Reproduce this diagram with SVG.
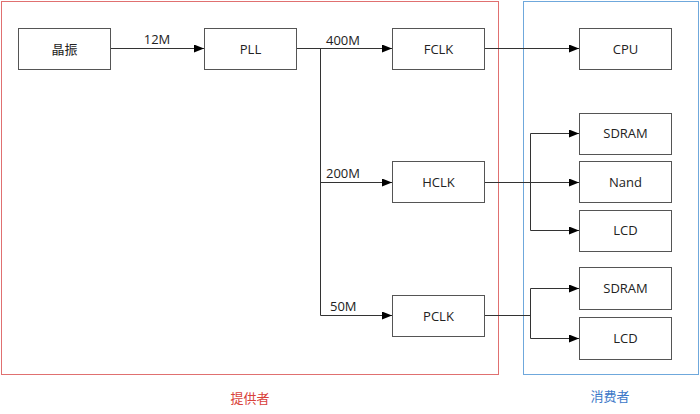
<svg xmlns="http://www.w3.org/2000/svg" width="700" height="414" viewBox="0 0 700 414">
<defs>
<marker id="arr" markerWidth="10" markerHeight="8" refX="10" refY="4" orient="auto" markerUnits="userSpaceOnUse"><path d="M0,0 L10,4 L0,8 z" fill="#000"/></marker>
<style>
.box{fill:#fff;stroke:#555;stroke-width:1}
.t{font-family:"Open Sans","Noto Sans CJK SC",sans-serif;font-size:13px;fill:#222;text-anchor:middle;dominant-baseline:central}
.lbl{font-family:"Open Sans",sans-serif;font-size:13px;fill:#222}
.c{fill:none;stroke:#333;stroke-width:1}
</style>
</defs>
<rect width="700" height="414" fill="#fff"/>
<g id="provider">
<rect x="1.5" y="1.5" width="497" height="373" fill="none" stroke="#e07070" stroke-width="1"/>
<text x="250" y="398" class="t" style="fill:#d9413a">提供者</text>
</g>
<g id="consumer">
<rect x="523.5" y="1.5" width="175" height="373" fill="none" stroke="#6fa8dc" stroke-width="1"/>
<text x="610" y="396" class="t" style="fill:#3c78c8">消费者</text>
</g>
<g id="connectors">
<path class="c" d="M110,48.5 H204" marker-end="url(#arr)"/>
<path class="c" d="M296,48.5 H392" marker-end="url(#arr)"/>
<path class="c" d="M320.5,48.5 V315.5"/>
<path class="c" d="M320.5,182.5 H392" marker-end="url(#arr)"/>
<path class="c" d="M320.5,315.5 H392" marker-end="url(#arr)"/>
<path class="c" d="M484,48.5 H579" marker-end="url(#arr)"/>
<path class="c" d="M484,182.5 H579" marker-end="url(#arr)"/>
<path class="c" d="M530.5,133.5 V230.5"/>
<path class="c" d="M530.5,133.5 H579" marker-end="url(#arr)"/>
<path class="c" d="M530.5,230.5 H579" marker-end="url(#arr)"/>
<path class="c" d="M484,315.5 H530.5"/>
<path class="c" d="M530.5,288.5 V338.5"/>
<path class="c" d="M530.5,288.5 H579" marker-end="url(#arr)"/>
<path class="c" d="M530.5,338.5 H579" marker-end="url(#arr)"/>
<text x="157" y="44" class="lbl" text-anchor="middle">12M</text>
<text x="326" y="45" class="lbl">400M</text>
<text x="326" y="178" class="lbl">200M</text>
<text x="330" y="311" class="lbl">50M</text>
</g>
<g id="n-osc"><rect class="box" x="18.5" y="28.5" width="92" height="41"/><text class="t" x="64.5" y="49">晶振</text></g>
<g id="n-pll"><rect class="box" x="204.5" y="28.5" width="92" height="41"/><text class="t" x="250.5" y="49">PLL</text></g>
<g id="n-fclk"><rect class="box" x="392.5" y="28.5" width="92" height="41"/><text class="t" x="438.5" y="49">FCLK</text></g>
<g id="n-hclk"><rect class="box" x="392.5" y="161.5" width="92" height="41"/><text class="t" x="438.5" y="182">HCLK</text></g>
<g id="n-pclk"><rect class="box" x="392.5" y="295.5" width="92" height="41"/><text class="t" x="438.5" y="316">PCLK</text></g>
<g id="n-cpu"><rect class="box" x="579.5" y="28.5" width="92" height="41"/><text class="t" x="625.5" y="49">CPU</text></g>
<g id="n-sdram1"><rect class="box" x="579.5" y="113.5" width="92" height="41"/><text class="t" x="625.5" y="133">SDRAM</text></g>
<g id="n-nand"><rect class="box" x="579.5" y="161.5" width="92" height="41"/><text class="t" x="625.5" y="182">Nand</text></g>
<g id="n-lcd1"><rect class="box" x="579.5" y="210.5" width="92" height="41"/><text class="t" x="625.5" y="230">LCD</text></g>
<g id="n-sdram2"><rect class="box" x="579.5" y="267.5" width="92" height="42"/><text class="t" x="625.5" y="288">SDRAM</text></g>
<g id="n-lcd2"><rect class="box" x="579.5" y="317.5" width="92" height="42"/><text class="t" x="625.5" y="338">LCD</text></g>
</svg>
